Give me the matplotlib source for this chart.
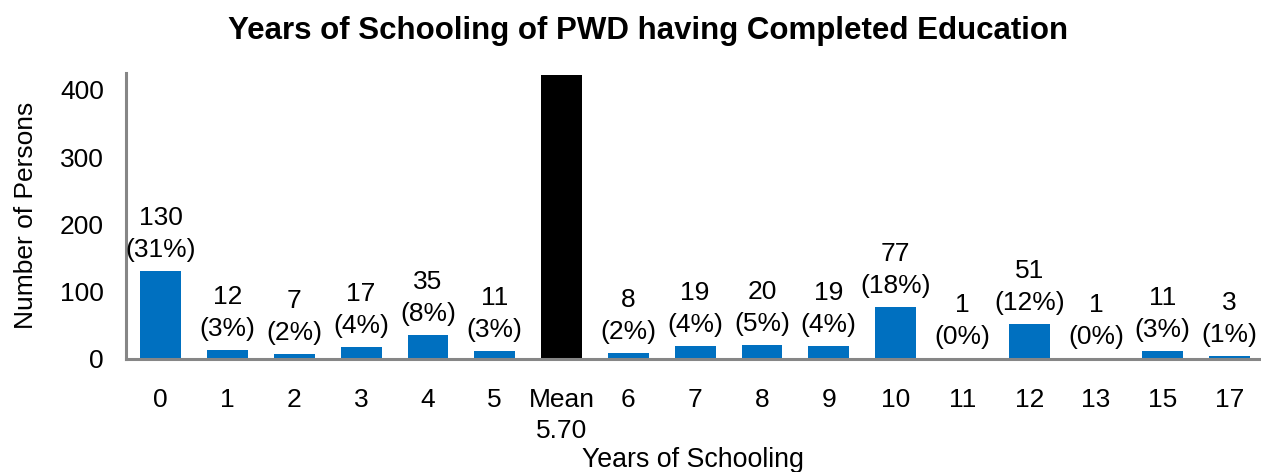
import matplotlib
matplotlib.use("Agg")
import matplotlib.pyplot as plt

categories = ["0", "1", "2", "3", "4", "5", "Mean\n5.70", "6", "7", "8", "9", "10", "11", "12", "13", "15", "17"]
counts = [130, 12, 7, 17, 35, 11, 422, 8, 19, 20, 19, 77, 1, 51, 1, 11, 3]
percents = ["31%", "3%", "2%", "4%", "8%", "3%", None, "2%", "4%", "5%", "4%", "18%", "0%", "12%", "0%", "3%", "1%"]
mean_index = 6

plt.rcParams['font.family'] = ['Liberation Sans', 'DejaVu Sans']

fig = plt.figure(figsize=(12.61, 4.72), dpi=100)
ax = fig.add_axes([126 / 1261, (472 - 358.5) / 472, 1 - 126 / 1261, 286 / 472])

x = list(range(len(categories)))
colors = ['#000000' if i == mean_index else '#0070C0' for i in x]
ax.bar(x, counts, width=0.61, color=colors, zorder=2)

for i, (c, p) in enumerate(zip(counts, percents)):
    if p is None:
        continue
    ax.annotate(f"{c}\n({p})", (i, c), xytext=(0, 6.5), textcoords='offset points',
                ha='center', va='bottom', fontsize=19, linespacing=1.42)

ax.set_xlim(-0.52, 16.47)
ax.set_ylim(0, 426)
ax.set_yticks([0, 100, 200, 300, 400])
ax.set_xticks(x)
ax.set_xticklabels(categories, linespacing=1.4)
ax.tick_params(axis='both', length=0, labelsize=19)
ax.tick_params(axis='x', pad=21)
ax.tick_params(axis='y', pad=16)

for s in ['top', 'right']:
    ax.spines[s].set_visible(False)
for s in ['left', 'bottom']:
    ax.spines[s].set_color('#868686')
    ax.spines[s].set_linewidth(2.2)

ax.set_ylabel("Number of Persons", fontsize=19)
ax.yaxis.set_label_coords(-0.0771, 0.5)
ax.set_xlabel("Years of Schooling", fontsize=19.3)
ax.xaxis.set_label_coords(0.4995, -0.309)
fig.text(648.5 / 1261, 1 - 39.3 / 472, "Years of Schooling of PWD having Completed Education",
         fontsize=22.5, fontweight='bold', ha='center', va='baseline')

fig.savefig("out.png", dpi=100)
